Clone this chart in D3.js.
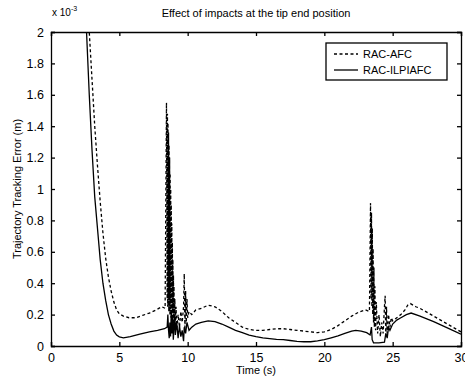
<!DOCTYPE html>
<html>
<head>
<meta charset="utf-8">
<script src="https://d3js.org/d3.v7.min.js"></script>
<style>
body { margin: 0; background: #fff; }
text { font-family: "Liberation Sans", Arial, sans-serif; fill: #000; }
.axis text { font-size: 12.5px; }
</style>
</head>
<body>
<svg id="v4" width="465" height="383"></svg>
<script>
// time (s) and error (x 1e-3 m)
var afc_t = [2.7, 2.8, 3.0, 3.2, 3.4, 3.6, 3.8, 4.0, 4.2, 4.4, 4.6, 4.8, 5.0, 5.3, 5.7, 6.2, 6.7, 7.2, 7.7, 8.1, 8.35,
    8.45, 8.5, 8.52, 8.54, 8.56, 8.58, 8.6, 8.62, 8.64, 8.66, 8.68, 8.7, 8.72, 8.74, 8.76, 8.78, 8.8, 8.82, 8.84, 8.86, 8.88, 8.9, 8.92, 8.94, 8.96, 8.98, 9.0, 9.03, 9.06, 9.1, 9.15, 9.2, 9.3, 9.4, 9.5, 9.6, 9.7, 9.75, 9.8, 9.85, 9.9, 9.95, 10.0, 10.1, 10.3, 10.6,
    11.0, 11.5, 12.0, 12.5, 13.0, 13.5, 14.0, 14.5, 15.0, 15.5, 16.0, 16.5, 17.0, 17.5, 18.0, 18.5, 19.0, 19.5, 20.0, 20.5, 21.0, 21.5, 22.0, 22.5, 23.0, 23.3,
    23.38, 23.42, 23.45, 23.48, 23.51, 23.54, 23.57, 23.6, 23.63, 23.66, 23.7, 23.75, 23.8, 23.9, 24.0, 24.1, 24.2, 24.3, 24.4, 24.45, 24.5, 24.55, 24.6, 24.7, 24.8, 24.9, 25.0,
    25.3, 25.6, 25.9, 26.1, 26.3, 26.7, 27, 28, 29, 30];
var afc_v = [2.1, 2.0, 1.7, 1.4, 1.15, 0.92, 0.72, 0.56, 0.44, 0.35, 0.28, 0.23, 0.205, 0.19, 0.18, 0.18, 0.195, 0.21, 0.23, 0.25, 0.24,
    1.55, 0.3, 1.48, 0.25, 1.42, 0.3, 1.36, 0.22, 1.28, 0.3, 1.2, 0.2, 1.1, 0.28, 1.0, 0.18, 0.9, 0.25, 0.78, 0.15, 0.66, 0.22, 0.55, 0.12, 0.45, 0.2, 0.38, 0.1, 0.3, 0.12, 0.25, 0.1, 0.2, 0.12, 0.22, 0.15, 0.25, 0.46, 0.1, 0.35, 0.15, 0.3, 0.18, 0.22, 0.2, 0.23,
    0.24, 0.26, 0.25, 0.22, 0.18, 0.15, 0.12, 0.105, 0.1, 0.1, 0.105, 0.11, 0.11, 0.105, 0.1, 0.095, 0.09, 0.085, 0.09, 0.105, 0.13, 0.16, 0.19, 0.215, 0.23, 0.22,
    0.91, 0.3, 0.85, 0.25, 0.75, 0.2, 0.62, 0.15, 0.5, 0.12, 0.38, 0.1, 0.28, 0.08, 0.2, 0.06, 0.15, 0.08, 0.25, 0.32, 0.05, 0.25, 0.08, 0.2, 0.12, 0.18, 0.16,
    0.18, 0.2, 0.23, 0.26, 0.27, 0.25, 0.24, 0.19, 0.14, 0.09];

var ilpi_t = [2.5, 2.6, 2.8, 3.0, 3.2, 3.4, 3.6, 3.8, 4.0, 4.2, 4.4, 4.6, 4.8, 5.0, 5.3, 5.8, 6.5, 7.2, 7.8, 8.3, 8.5,
    8.55, 8.6, 8.65, 8.7, 8.75, 8.8, 8.85, 8.9, 8.95, 9.0, 9.05, 9.1, 9.2, 9.3, 9.4, 9.5, 9.6, 9.7, 9.75, 9.85, 9.95, 10.1, 10.3, 10.6,
    11.0, 11.5, 12.0, 12.5, 13.0, 13.5, 14.0, 14.5, 15.0, 15.5, 16, 16.5, 17, 17.5, 18, 18.5, 19, 19.5, 20, 20.5, 21, 21.5, 22, 22.3, 22.7, 23.1, 23.35,
    23.45, 23.5, 23.6, 24.0, 24.4, 24.5, 24.6, 24.7, 24.8, 25.0, 25.3, 25.6, 26.0, 26.35, 27, 28, 29, 30];
var ilpi_v = [2.1, 2.0, 1.6, 1.25, 0.95, 0.75, 0.55, 0.40, 0.29, 0.2, 0.14, 0.095, 0.07, 0.058, 0.052, 0.06, 0.075, 0.09, 0.1, 0.11, 0.12,
    0.2, 0.1, 0.05, 0.15, 0.06, 0.22, 0.08, 0.18, 0.04, 0.12, 0.2, 0.07, 0.15, 0.05, 0.13, 0.06, 0.1, 0.03, 0.12, 0.08, 0.15, 0.1, 0.12, 0.14,
    0.15, 0.16, 0.155, 0.14, 0.12, 0.1, 0.085, 0.07, 0.06, 0.052, 0.047, 0.042, 0.04, 0.035, 0.03, 0.027, 0.027, 0.032, 0.04, 0.052, 0.065, 0.08, 0.095, 0.1, 0.095, 0.085, 0.07,
    0.12, 0.04, 0.02, 0.02, 0.025, 0.08, 0.05, 0.12, 0.1, 0.14, 0.165, 0.18, 0.2, 0.21, 0.19, 0.155, 0.115, 0.075];

var x_ticks = [0, 5, 10, 15, 20, 25, 30];
var y_ticks = [0, 0.2, 0.4, 0.6, 0.8, 1, 1.2, 1.4, 1.6, 1.8, 2];
var series_names = ["RAC-AFC", "RAC-ILPIAFC"];

var svg = d3.select("#v4"),
    margin = {top: 32, right: 4, bottom: 37, left: 51},
    width = +svg.attr("width") - margin.left - margin.right,
    height = +svg.attr("height") - margin.top - margin.bottom;

var x = d3.scaleLinear().domain([0, 30]).range([0, width]),
    y = d3.scaleLinear().domain([0, 2]).range([height, 0]);

var g = svg.append("g")
    .attr("transform", "translate(" + margin.left + "," + margin.top + ")");

svg.append("defs").append("clipPath").attr("id", "clip")
    .append("rect").attr("width", width).attr("height", height);

var line = d3.line()
    .x(function (d) { return x(d[0]); })
    .y(function (d) { return y(d[1]); });

var afc = afc_t.map(function (t, i) { return [t, afc_v[i]]; });
var ilpi = ilpi_t.map(function (t, i) { return [t, ilpi_v[i]]; });

var plot = g.append("g").attr("clip-path", "url(#clip)");

plot.append("path").datum(afc)
    .attr("fill", "none").attr("stroke", "#000").attr("stroke-width", 1.3)
    .attr("stroke-dasharray", "3,2.5")
    .attr("d", line);

plot.append("path").datum(ilpi)
    .attr("fill", "none").attr("stroke", "#000").attr("stroke-width", 1.3)
    .attr("d", line);

// axes, ticks inward on all four sides
var fmt = function (d) { return d3.format("")(+d.toFixed(1)); };

g.append("g").attr("class", "axis")
    .attr("transform", "translate(0," + height + ")")
    .call(d3.axisBottom(x).tickValues(x_ticks).tickSize(-4).tickPadding(7).tickFormat(fmt));
g.append("g").attr("class", "axis")
    .call(d3.axisLeft(y).tickValues(y_ticks).tickSize(-4).tickPadding(7).tickFormat(fmt));
g.append("g")
    .call(d3.axisTop(x).tickValues(x_ticks).tickSize(-4).tickFormat(""));
g.append("g")
    .attr("transform", "translate(" + width + ",0)")
    .call(d3.axisRight(y).tickValues(y_ticks).tickSize(-4).tickFormat(""));

g.selectAll(".domain").attr("stroke", "#000").attr("stroke-width", 1.3);
g.selectAll(".tick line").attr("stroke", "#000").attr("stroke-width", 1.3);
g.selectAll(".axis text").attr("fill", "#000");

// exponent
var ex = svg.append("text").attr("x", 52).attr("y", 16).style("font-size", "10px");
ex.append("tspan").text("x 10");
ex.append("tspan").attr("dy", -5).style("font-size", "7px").text("-3");

svg.append("text")
    .attr("x", margin.left + width / 2).attr("y", 17)
    .attr("text-anchor", "middle").style("font-size", "11px")
    .text("Effect of impacts at the tip end position");

svg.append("text")
    .attr("x", margin.left + width / 2).attr("y", 374)
    .attr("text-anchor", "middle").style("font-size", "11px")
    .text("Time (s)");

svg.append("text")
    .attr("transform", "translate(21," + (margin.top + height / 2) + ") rotate(-90)")
    .attr("text-anchor", "middle").style("font-size", "11px")
    .text("Trajectory Tracking Error (m)");

// legend
var lg = svg.append("g").attr("transform", "translate(326,43)");
lg.append("rect").attr("width", 121).attr("height", 37)
    .attr("fill", "#fff").attr("stroke", "#000").attr("stroke-width", 1.3);
series_names.forEach(function (name, i) {
    var yy = 11 + i * 16;
    lg.append("line").attr("x1", 8).attr("x2", 32).attr("y1", yy).attr("y2", yy)
        .attr("stroke", "#000").attr("stroke-width", 1.3)
        .attr("stroke-dasharray", i == 0 ? "3,2.5" : null);
    lg.append("text").attr("x", 37).attr("y", yy + 4).style("font-size", "11px").text(name);
});
</script>
</body>
</html>
